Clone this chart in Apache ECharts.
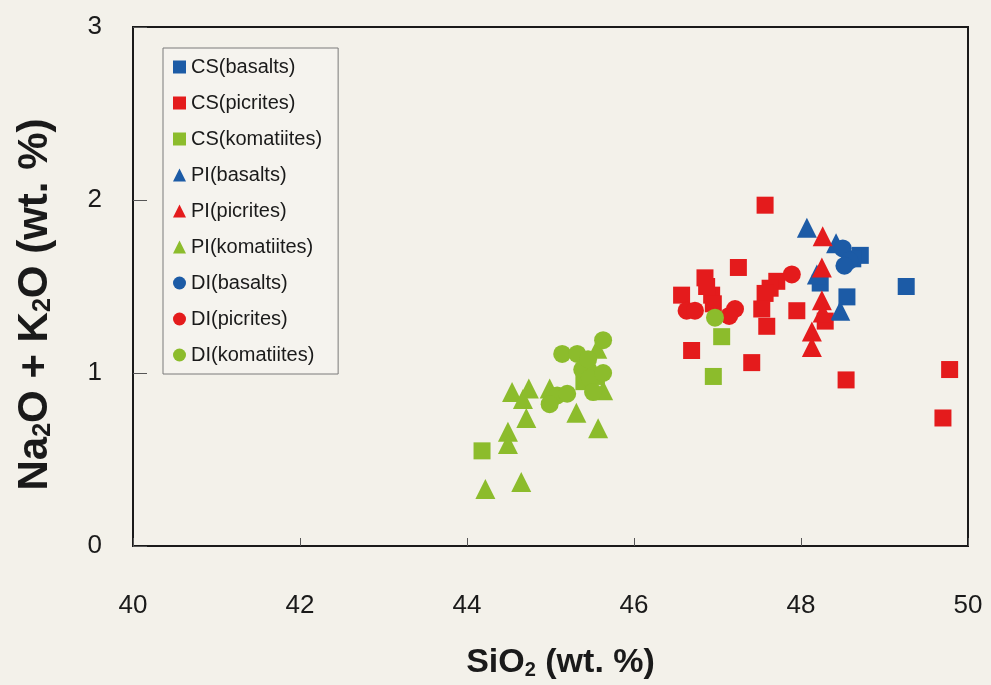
<!DOCTYPE html>
<html>
<head>
<meta charset="utf-8">
<script src="https://cdn.jsdelivr.net/npm/echarts@6/dist/echarts.min.js"></script>
<style>
  html, body { margin: 0; padding: 0; background: #f3f1ea; }
  #chart { width: 991px; height: 685px; }
</style>
</head>
<body>
<div id="chart"></div>
<script>
// SiO2 vs total alkalis, grouped by unit (CS / PI / DI) and rock type
const xTicks = [40, 42, 44, 46, 48, 50];
const yTicks = [0, 1, 2, 3];

const csBasalts = [[48.71, 1.68], [48.23, 1.52], [48.55, 1.44], [49.26, 1.50], [48.62, 1.66]];
const csPicrites = [[47.57, 1.97], [47.25, 1.61], [46.85, 1.55], [46.57, 1.45], [46.93, 1.45],
  [46.87, 1.50], [46.69, 1.13], [47.41, 1.06], [47.71, 1.53], [47.63, 1.49], [47.57, 1.46],
  [47.53, 1.37], [47.59, 1.27], [47.95, 1.36], [48.29, 1.30], [48.54, 0.96], [49.78, 1.02],
  [49.70, 0.74], [46.95, 1.40]];
const csKomatiites = [[44.18, 0.55], [47.05, 1.21], [46.95, 0.98], [45.40, 0.95], [45.55, 0.98]];
const piBasalts = [[48.07, 1.84], [48.19, 1.57], [48.47, 1.36], [48.42, 1.75]];
const piPicrites = [[48.26, 1.79], [48.25, 1.61], [48.25, 1.42], [48.26, 1.35], [48.13, 1.24], [48.13, 1.15]];
const piKomatiites = [[44.22, 0.33], [44.65, 0.37], [44.49, 0.66], [44.49, 0.59], [44.71, 0.74],
  [44.54, 0.89], [44.67, 0.85], [44.74, 0.91], [44.99, 0.91], [45.56, 1.14], [45.31, 0.77],
  [45.57, 0.68], [45.63, 0.90], [45.50, 1.03]];
const diBasalts = [[48.50, 1.72], [48.58, 1.65], [48.52, 1.62]];
const diPicrites = [[46.63, 1.36], [46.73, 1.36], [47.21, 1.37], [47.14, 1.33], [47.89, 1.57]];
const diKomatiites = [[45.14, 1.11], [45.32, 1.11], [45.08, 0.87], [44.99, 0.82], [45.63, 1.19],
  [45.38, 1.02], [45.47, 0.97], [45.63, 1.00], [45.51, 0.89], [45.20, 0.88], [46.97, 1.32], [45.45, 1.08]];

const BLUE = '#1c5ba6', RED = '#e41b1c', GREEN = '#8cbc2c';
const FONT = "'Liberation Sans', Arial, sans-serif";

const groups = [
  { name: 'CS(basalts)', data: csBasalts, symbol: 'rect', color: BLUE },
  { name: 'CS(picrites)', data: csPicrites, symbol: 'rect', color: RED },
  { name: 'CS(komatiites)', data: csKomatiites, symbol: 'rect', color: GREEN },
  { name: 'PI(basalts)', data: piBasalts, symbol: 'triangle', color: BLUE },
  { name: 'PI(picrites)', data: piPicrites, symbol: 'triangle', color: RED },
  { name: 'PI(komatiites)', data: piKomatiites, symbol: 'triangle', color: GREEN },
  { name: 'DI(basalts)', data: diBasalts, symbol: 'circle', color: BLUE },
  { name: 'DI(picrites)', data: diPicrites, symbol: 'circle', color: RED },
  { name: 'DI(komatiites)', data: diKomatiites, symbol: 'circle', color: GREEN }
];

const sizeFor = { rect: 17, triangle: 20, circle: 18 };

const chart = echarts.init(document.getElementById('chart'), null, { renderer: 'canvas' });

chart.setOption({
  backgroundColor: '#f3f1ea',
  animation: false,
  grid: {
    left: 133, top: 27, width: 835, height: 521,
    show: true, borderColor: '#1a1a1a', borderWidth: 2, backgroundColor: 'transparent'
  },
  legend: {
    orient: 'vertical',
    left: 163, top: 48,
    padding: [9, 16, 9, 10],
    itemGap: 16,
    itemWidth: 13, itemHeight: 13,
    backgroundColor: '#f5f3ee',
    borderColor: '#7a7a7a', borderWidth: 1, borderRadius: 0,
    textStyle: { fontFamily: FONT, fontSize: 20, color: '#1a1a1a' },
    data: groups.map(g => ({ name: g.name, icon: g.symbol }))
  },
  xAxis: {
    type: 'value', min: xTicks[0], max: xTicks[xTicks.length - 1], interval: 2,
    splitLine: { show: false },
    axisLine: { show: true, lineStyle: { color: '#1a1a1a', width: 2 } },
    axisTick: { show: true, inside: true, length: 8, lineStyle: { color: '#555', width: 1 } },
    axisLabel: { margin: 47, fontFamily: FONT, fontSize: 26, color: '#1a1a1a' },
    name: '{n|SiO}{s|2}{n| (wt. %)}',
    nameLocation: 'middle', nameGap: 100,
    nameTextStyle: {
      padding: [0, 0, 0, 20],
      rich: {
        n: { fontFamily: FONT, fontSize: 34, fontWeight: 'bold', color: '#1a1a1a', lineHeight: 34 },
        s: { fontFamily: FONT, fontSize: 20, fontWeight: 'bold', color: '#1a1a1a', lineHeight: 20, verticalAlign: 'bottom' }
      }
    }
  },
  yAxis: {
    type: 'value', min: yTicks[0], max: yTicks[yTicks.length - 1], interval: 1,
    splitLine: { show: false },
    axisLine: { show: true, lineStyle: { color: '#1a1a1a', width: 2 } },
    axisTick: { show: true, inside: true, length: 14, lineStyle: { color: '#555', width: 1 } },
    axisLabel: { margin: 31, fontFamily: FONT, fontSize: 26, color: '#1a1a1a' },
    name: '{n|Na}{s|2}{n|O + K}{s|2}{n|O (wt. %)}',
    nameLocation: 'middle', nameGap: 77,
    nameTextStyle: {
      padding: [0, 36, 0, 0],
      rich: {
        n: { fontFamily: FONT, fontSize: 42, fontWeight: 'bold', color: '#1a1a1a', lineHeight: 42 },
        s: { fontFamily: FONT, fontSize: 25, fontWeight: 'bold', color: '#1a1a1a', lineHeight: 25, verticalAlign: 'bottom' }
      }
    }
  },
  series: groups.map(g => ({
    name: g.name,
    type: 'scatter',
    symbol: g.symbol,
    symbolSize: sizeFor[g.symbol],
    itemStyle: { color: g.color, opacity: 1 },
    data: g.data
  }))
});
</script>
</body>
</html>
